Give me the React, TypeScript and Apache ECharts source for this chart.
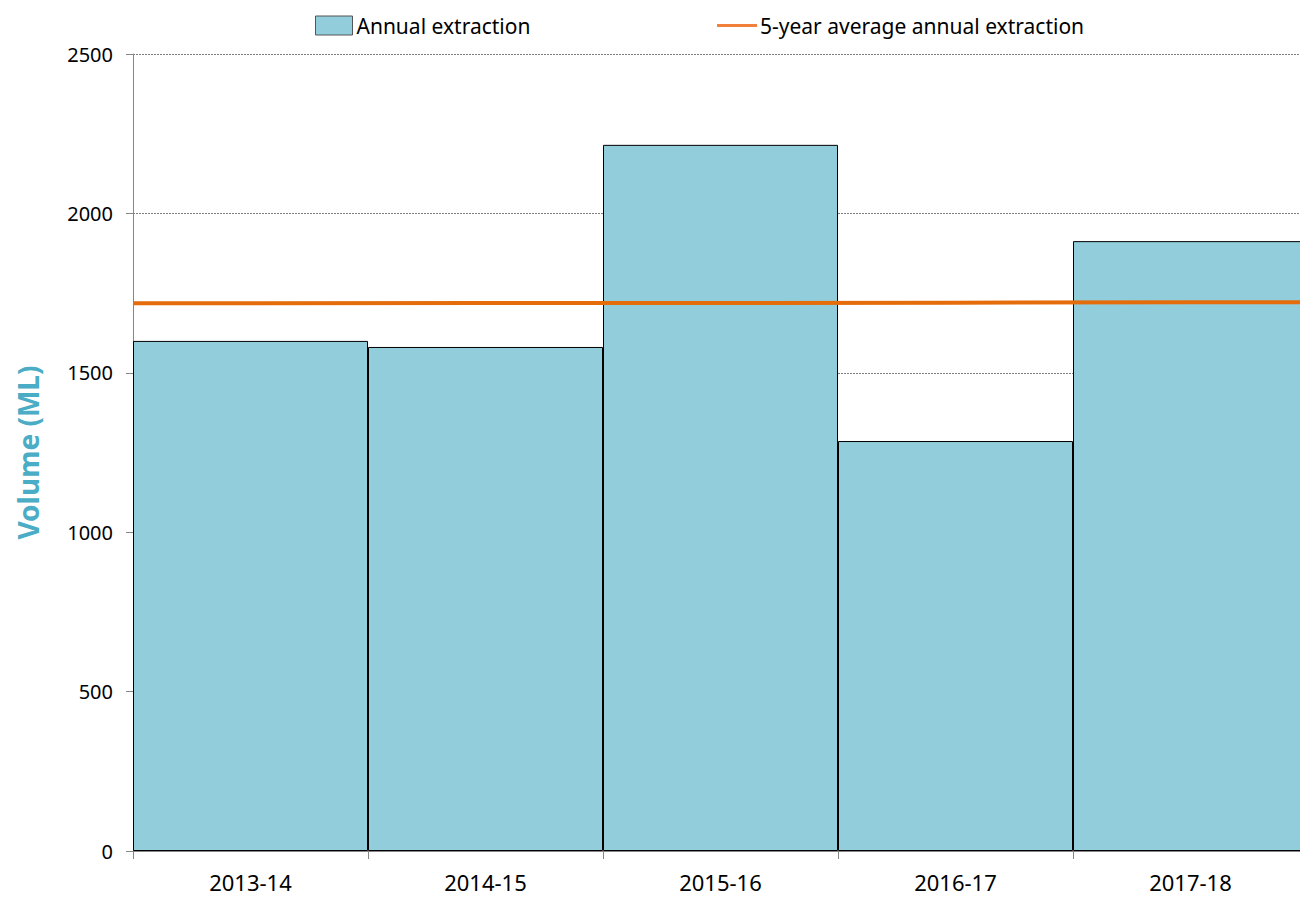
import React, { useEffect, useRef } from "react";
import * as echarts from "echarts";

const categories = ["2013-14", "2014-15", "2015-16", "2016-17", "2017-18"];
const annualExtraction = [1600, 1581, 2215, 1286, 1913];
const fiveYearAverage = [1718, 1719, 1719, 1720, 1721];
const yTicks = [0, 500, 1000, 1500, 2000, 2500];

const FONT = "'Noto Sans', sans-serif";

export default function App() {
  const ref = useRef<HTMLDivElement>(null);
  useEffect(() => {
    if (!ref.current) return;
    const chart = echarts.init(ref.current, null, { renderer: "svg" });
    const n = categories.length;
    const avgPoints: [number, number][] = [];
    fiveYearAverage.forEach((v, i) => {
      if (i === 0) avgPoints.push([0, v]);
      avgPoints.push([i + 0.5, v]);
      if (i === n - 1) avgPoints.push([n, v]);
    });
    chart.setOption({
      animation: false,
      textStyle: { fontFamily: FONT },
      legend: [
        {
          left: 315,
          top: 15,
          padding: 0,
          itemWidth: 37,
          itemHeight: 19,
          itemGap: 0,
          data: [{ name: "Annual extraction", icon: "rect" }],
          itemStyle: { borderColor: "#555", borderWidth: 1 },
          textStyle: { fontSize: 21, color: "#000", fontFamily: FONT, padding: [0, 0, 0, -1] },
        },
        {
          left: 717,
          top: 15,
          padding: 0,
          itemWidth: 40,
          itemHeight: 19,
          data: [{ name: "5-year average annual extraction", icon: "path://M0,8.5 L40,8.5 L40,11.5 L0,11.5 Z" }],
          itemStyle: { color: "#F0803A" },
          textStyle: { fontSize: 21, color: "#000", fontFamily: FONT, padding: [0, 0, 0, -2] },
        },
      ],
      grid: { left: 133, top: 54, width: 1175, height: 797, containLabel: false },
      xAxis: [
        {
          type: "category",
          data: categories,
          axisLine: { show: true, lineStyle: { color: "#868686", width: 1 } },
          axisTick: { show: true, alignWithLabel: false, length: 8, lineStyle: { color: "#868686" } },
          axisLabel: { fontSize: 22, color: "#000", margin: 20, fontFamily: FONT, lineHeight: 22 },
          splitLine: { show: false },
        },
        {
          type: "value",
          min: 0,
          max: n,
          show: false,
        },
      ],
      yAxis: {
        type: "value",
        min: yTicks[0],
        max: yTicks[yTicks.length - 1],
        interval: 500,
        name: "Volume (ML)",
        nameLocation: "middle",
        nameGap: 91,
        nameTextStyle: { fontSize: 28, fontWeight: "bold", color: "#4BACC6", fontFamily: FONT },
        axisLine: { show: true, lineStyle: { color: "#868686", width: 1 } },
        axisTick: { show: true, length: 7, lineStyle: { color: "#868686" } },
        axisLabel: { fontSize: 20, color: "#000", margin: 20, fontFamily: FONT, formatter: (v: number) => String(v) },
        splitLine: { show: true, lineStyle: { color: "#7f7f7f", width: 1, type: [2, 1] } },
      },
      series: [
        {
          name: "Annual extraction",
          type: "bar",
          data: annualExtraction,
          barCategoryGap: "0%",
          itemStyle: { color: "#92CDDC", borderColor: "#000", borderWidth: 1 },
          z: 2,
        },
        {
          name: "5-year average annual extraction",
          type: "line",
          xAxisIndex: 1,
          data: avgPoints,
          symbol: "none",
          lineStyle: { color: "#E46C0A", width: 4 },
          itemStyle: { color: "#E46C0A" },
          z: 3,
        },
      ],
    });
    return () => chart.dispose();
  }, []);
  return (
    <div style={{ position: "fixed", left: 0, top: 0, width: 1300, height: 897, overflow: "hidden", background: "#fff" }}>
      <div ref={ref} style={{ width: 1320, height: 897 }} />
    </div>
  );
}
